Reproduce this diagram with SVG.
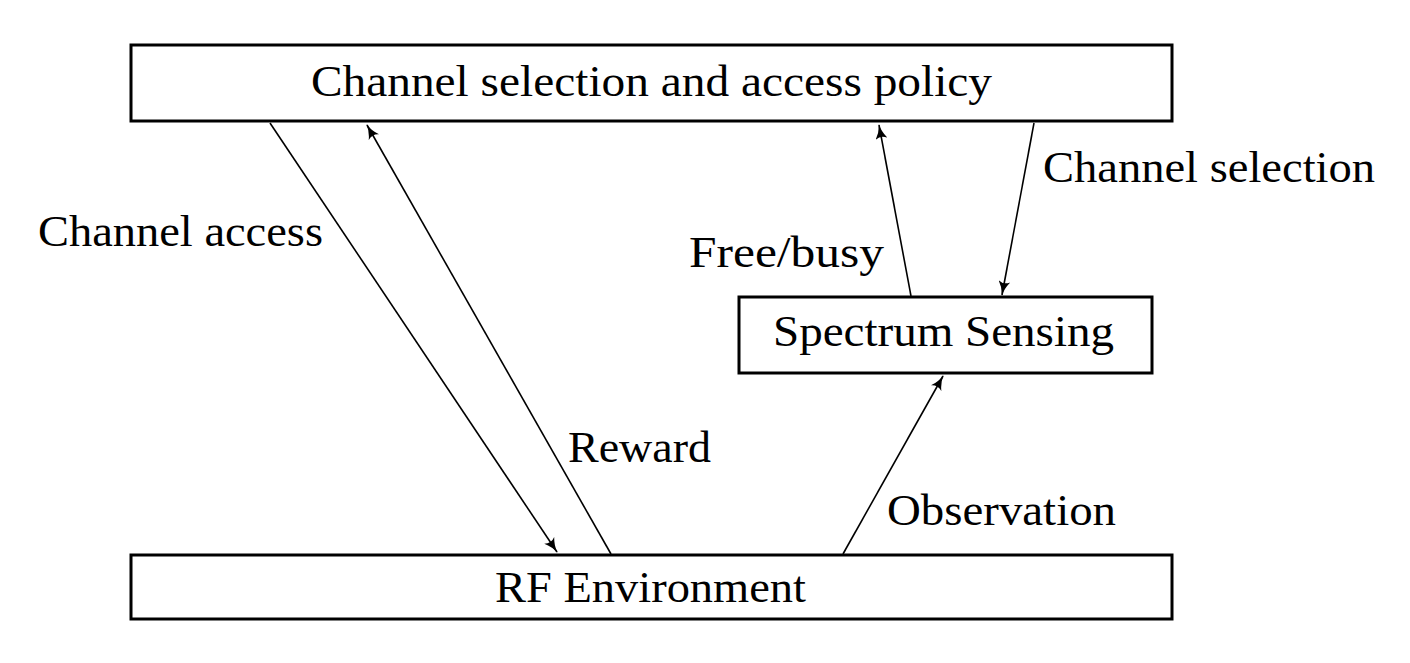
<svg xmlns="http://www.w3.org/2000/svg" width="1410" height="663" viewBox="0 0 1410 663">
<style>
.box{fill:#fff;stroke:#000;stroke-width:3}
.ln{fill:none;stroke:#000;stroke-width:1.6}
text{font-family:"Liberation Serif","DejaVu Serif",serif;font-size:44px;fill:#000}
</style>
<defs>
<marker id="ah" viewBox="0 0 15 12" refX="14" refY="6" markerWidth="15" markerHeight="12" markerUnits="userSpaceOnUse" orient="auto">
<path d="M0,0 Q7,5 15,6 Q7,7 0,12 Q4,6 0,0 Z" fill="#000"/>
</marker>
</defs>
<rect width="1410" height="663" fill="#fff"/>
<g id="connectors">
<line class="ln" x1="270" y1="123" x2="557" y2="552" marker-end="url(#ah)"/>
<line class="ln" x1="611" y1="554" x2="367" y2="125" marker-end="url(#ah)"/>
<line class="ln" x1="911" y1="296" x2="879" y2="125" marker-end="url(#ah)"/>
<line class="ln" x1="1034" y1="123" x2="1002" y2="295" marker-end="url(#ah)"/>
<line class="ln" x1="843" y1="554" x2="943" y2="376" marker-end="url(#ah)"/>
<text x="38" y="246" textLength="285" lengthAdjust="spacingAndGlyphs">Channel access</text>
<text x="568" y="462" textLength="143" lengthAdjust="spacingAndGlyphs">Reward</text>
<text x="689" y="267" textLength="195" lengthAdjust="spacingAndGlyphs">Free/busy</text>
<text x="1043" y="182" textLength="332" lengthAdjust="spacingAndGlyphs">Channel selection</text>
<text x="887" y="525" textLength="229" lengthAdjust="spacingAndGlyphs">Observation</text>
</g>
<g id="policy">
<rect class="box" x="131" y="45" width="1041" height="76"/>
<text x="311" y="96" textLength="681" lengthAdjust="spacingAndGlyphs">Channel selection and access policy</text>
</g>
<g id="sensing">
<rect class="box" x="739" y="297" width="413" height="76"/>
<text x="773" y="346" textLength="341" lengthAdjust="spacingAndGlyphs">Spectrum Sensing</text>
</g>
<g id="rf">
<rect class="box" x="131" y="555" width="1041" height="64"/>
<text x="495" y="602" textLength="311" lengthAdjust="spacingAndGlyphs">RF Environment</text>
</g>
</svg>
